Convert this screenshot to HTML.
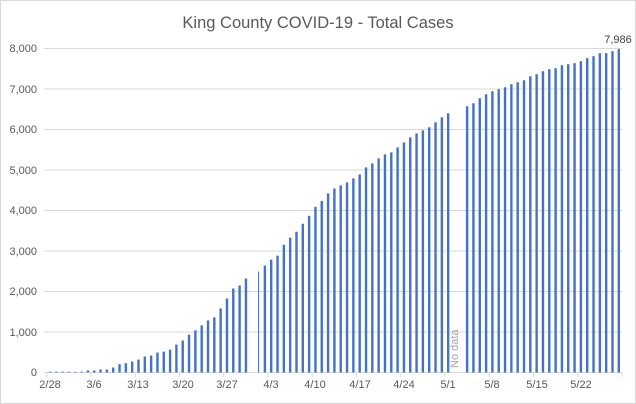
<!DOCTYPE html>
<html><head><meta charset="utf-8"><style>
html,body{margin:0;padding:0;background:#fff;}
svg{display:block;font-family:"Liberation Sans",sans-serif;}
</style></head><body>
<svg id="c" width="636" height="404" viewBox="0 0 636 404">
<rect x="0.5" y="0.5" width="635" height="403" fill="#fff" stroke="#d9d9d9"/>
<text x="318" y="28" text-anchor="middle" font-size="16.5" fill="#595959">King County COVID-19 - Total Cases</text>
<g stroke="#d9d9d9" stroke-width="1">
<line x1="44" x2="622" y1="48.5" y2="48.5"/>
<line x1="44" x2="622" y1="89" y2="89"/>
<line x1="44" x2="622" y1="129.5" y2="129.5"/>
<line x1="44" x2="622" y1="170" y2="170"/>
<line x1="44" x2="622" y1="210.5" y2="210.5"/>
<line x1="44" x2="622" y1="251" y2="251"/>
<line x1="44" x2="622" y1="291.5" y2="291.5"/>
<line x1="44" x2="622" y1="332" y2="332"/>
<line x1="44" x2="622" y1="372.5" y2="372.5"/>
</g>
<g font-size="11" fill="#595959" text-anchor="end">
<text x="37" y="52">8,000</text>
<text x="37" y="93">7,000</text>
<text x="37" y="133">6,000</text>
<text x="37" y="174">5,000</text>
<text x="37" y="214">4,000</text>
<text x="37" y="255">3,000</text>
<text x="37" y="295">2,000</text>
<text x="37" y="336">1,000</text>
<text x="37" y="376">0</text>
</g>
<g id="bars" fill="#4472c4"></g>
<g id="ticks" stroke="#d9d9d9"></g>
<g font-size="11" fill="#595959" text-anchor="middle">
<text x="50" y="388">2/28</text>
<text x="94" y="388">3/6</text>
<text x="138" y="388">3/13</text>
<text x="183" y="388">3/20</text>
<text x="227" y="388">3/27</text>
<text x="271" y="388">4/3</text>
<text x="315" y="388">4/10</text>
<text x="360" y="388">4/17</text>
<text x="404" y="388">4/24</text>
<text x="448" y="388">5/1</text>
<text x="492" y="388">5/8</text>
<text x="537" y="388">5/15</text>
<text x="581" y="388">5/22</text>
</g>
<text x="0" y="0" font-size="11" fill="#a6a6a6" transform="translate(458,368) rotate(-90)">No data</text>
<text x="618" y="43" font-size="11" fill="#404040" text-anchor="middle">7,986</text>
</svg>
<script>
var v=[20,20,20,20,16,20,50,50,75,75,123,205,230,270,320,393,418,492,516,566,689,790,934,1040,1164,1287,1361,1582,1828,2074,2148,2320,0,2492,2639,2787,2885,3156,3328,3475,3672,3869,4090,4238,4421,4544,4619,4693,4792,4891,5064,5163,5287,5386,5435,5559,5682,5806,5905,5979,6054,6177,6301,6400,0,0,6573,6647,6771,6870,6944,6994,7043,7118,7167,7216,7315,7365,7439,7489,7513,7588,7612,7637,7687,7761,7810,7885,7885,7934,7986];
var ns="http://www.w3.org/2000/svg",b=document.getElementById("bars"),t=document.getElementById("ticks");
for(var i=0;i<v.length;i++){if(!v[i])continue;var cx=50+i*6.32,w=(i==33)?1:2.4;var h=v[i]*40.5/1000;
var r=document.createElementNS(ns,"rect");r.setAttribute("x",cx-w/2);r.setAttribute("width",w);r.setAttribute("y",372.5-h);r.setAttribute("height",h);b.appendChild(r);}
for(var k=0;k<=13;k++){var x=(k<13)?46.8+k*44.24:622;var l=document.createElementNS(ns,"line");l.setAttribute("x1",x);l.setAttribute("x2",x);l.setAttribute("y1",372.5);l.setAttribute("y2",377);t.appendChild(l);}
</script>
</body></html>
